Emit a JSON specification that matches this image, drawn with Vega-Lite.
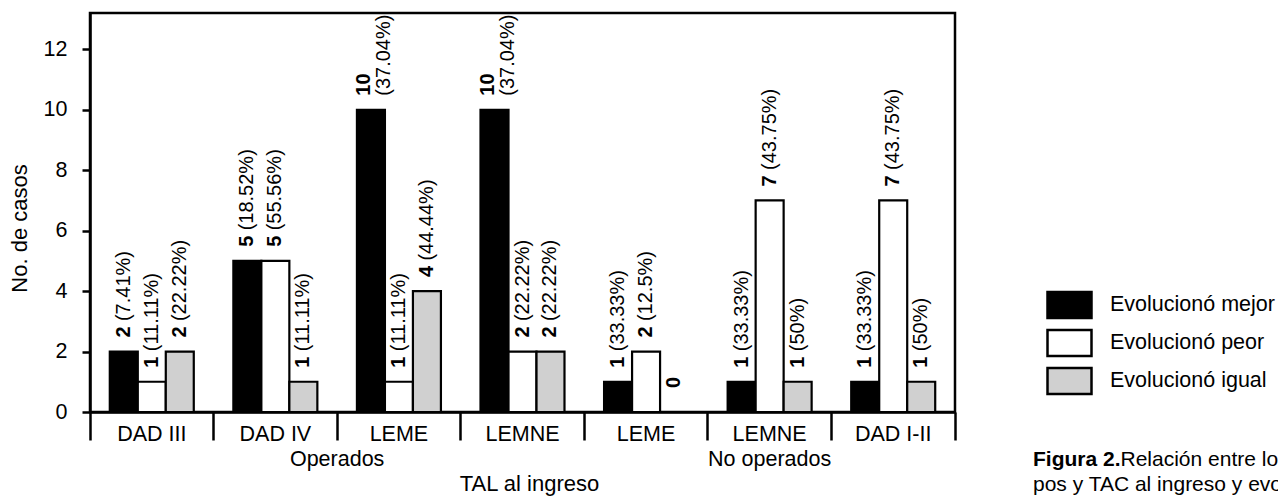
{
  "$schema": "https://vega.github.io/schema/vega-lite/v6.json",
  "width": 865,
  "height": 399,
  "autosize": {"type": "none"},
  "padding": {"left": 90, "top": 13, "right": 323, "bottom": 84},
  "config": {
    "font": "Liberation Sans",
    "view": {"stroke": "#000", "strokeWidth": 2.5},
    "axis": {"labelColor": "#000", "titleColor": "#000", "domainColor": "#000", "tickColor": "#000", "labelFontSize": 21.5, "titleFontSize": 22, "titleFontWeight": "normal", "grid": false, "labelFont": "Liberation Sans", "titleFont": "Liberation Sans"}
  },
  "title": {
    "text": "Figura 2.",
    "subtitle": ["\u200b\u00a0\u00a0\u00a0\u00a0\u00a0\u00a0\u00a0\u00a0\u00a0\u00a0\u00a0\u00a0\u00a0\u00a0\u00a0Relación entre los gru-", "pos y TAC al ingreso y evolución"],
    "orient": "bottom",
    "anchor": "start",
    "frame": "group",
    "dx": 943,
    "dy": -45,
    "offset": 0,
    "font": "Liberation Sans",
    "fontSize": 21,
    "fontWeight": "bold",
    "color": "#000",
    "subtitleFont": "Liberation Sans",
    "subtitleFontSize": 21,
    "subtitleColor": "#000",
    "subtitlePadding": -21,
    "subtitleLineHeight": 25
  },
  "data": {
    "values": [
      {"grupo": "Operados", "tal": "DAD III", "serie": "Evolucionó mejor", "n": 2, "pct": 7.41},
      {"grupo": "Operados", "tal": "DAD III", "serie": "Evolucionó peor", "n": 1, "pct": 11.11},
      {"grupo": "Operados", "tal": "DAD III", "serie": "Evolucionó igual", "n": 2, "pct": 22.22},
      {"grupo": "Operados", "tal": "DAD IV", "serie": "Evolucionó mejor", "n": 5, "pct": 18.52},
      {"grupo": "Operados", "tal": "DAD IV", "serie": "Evolucionó peor", "n": 5, "pct": 55.56},
      {"grupo": "Operados", "tal": "DAD IV", "serie": "Evolucionó igual", "n": 1, "pct": 11.11},
      {"grupo": "Operados", "tal": "LEME", "serie": "Evolucionó mejor", "n": 10, "pct": 37.04},
      {"grupo": "Operados", "tal": "LEME", "serie": "Evolucionó peor", "n": 1, "pct": 11.11},
      {"grupo": "Operados", "tal": "LEME", "serie": "Evolucionó igual", "n": 4, "pct": 44.44},
      {"grupo": "Operados", "tal": "LEMNE", "serie": "Evolucionó mejor", "n": 10, "pct": 37.04},
      {"grupo": "Operados", "tal": "LEMNE", "serie": "Evolucionó peor", "n": 2, "pct": 22.22},
      {"grupo": "Operados", "tal": "LEMNE", "serie": "Evolucionó igual", "n": 2, "pct": 22.22},
      {"grupo": "No operados", "tal": "LEME", "serie": "Evolucionó mejor", "n": 1, "pct": 33.33},
      {"grupo": "No operados", "tal": "LEME", "serie": "Evolucionó peor", "n": 2, "pct": 12.5},
      {"grupo": "No operados", "tal": "LEME", "serie": "Evolucionó igual", "n": 0, "pct": null},
      {"grupo": "No operados", "tal": "LEMNE", "serie": "Evolucionó mejor", "n": 1, "pct": 33.33},
      {"grupo": "No operados", "tal": "LEMNE", "serie": "Evolucionó peor", "n": 7, "pct": 43.75},
      {"grupo": "No operados", "tal": "LEMNE", "serie": "Evolucionó igual", "n": 1, "pct": 50},
      {"grupo": "No operados", "tal": "DAD I-II", "serie": "Evolucionó mejor", "n": 1, "pct": 33.33},
      {"grupo": "No operados", "tal": "DAD I-II", "serie": "Evolucionó peor", "n": 7, "pct": 43.75},
      {"grupo": "No operados", "tal": "DAD I-II", "serie": "Evolucionó igual", "n": 1, "pct": 50}
    ]
  },
  "transform": [
    {"calculate": "datum.grupo + '|' + datum.tal", "as": "cat"},
    {"calculate": "datum.pct == null ? '' : '(' + datum.pct + '%)'", "as": "pctLabel"}
  ],
  "encoding": {
    "y": {
      "field": "n",
      "type": "quantitative",
      "scale": {"domain": [0, 13.2], "nice": false, "zero": true},
      "axis": {
        "values": [0, 2, 4, 6, 8, 10, 12],
        "tickSize": 8,
        "tickWidth": 2.5,
        "domainWidth": 2.5,
        "labelPadding": 15,
        "title": "No. de casos",
        "titleX": -64,
        "titleY": 215,
        "titleAlign": "center",
        "titleBaseline": "alphabetic",
        "titleAngle": 270
      }
    },
    "xOffset": {
      "field": "serie",
      "type": "nominal",
      "scale": {"domain": ["Evolucionó mejor", "Evolucionó peor", "Evolucionó igual"], "paddingInner": 0, "paddingOuter": 0.707}
    }
  },
  "layer": [
    {
      "mark": {"type": "bar", "stroke": "#000", "strokeWidth": 2.2},
      "encoding": {
        "x": {
          "field": "cat",
          "type": "nominal",
          "scale": {"domain": ["Operados|DAD III", "Operados|DAD IV", "Operados|LEME", "Operados|LEMNE", "No operados|LEME", "No operados|LEMNE", "No operados|DAD I-II"], "paddingInner": 0, "paddingOuter": 0},
          "axis": {"orient": "bottom", "bandPosition": 1, "tickExtra": true, "labels": false, "ticks": true, "tickSize": 28, "tickWidth": 2.5, "domain": true, "domainWidth": 2.5, "title": null}
        },
        "color": {
          "field": "serie",
          "type": "nominal",
          "scale": {"domain": ["Evolucionó mejor", "Evolucionó peor", "Evolucionó igual"], "range": ["#000000", "#ffffff", "#d0d0d0"]},
          "legend": {
            "orient": "none",
            "legendX": 956,
            "legendY": 274,
            "title": null,
            "symbolType": "M-1,-0.59H1V0.59H-1Z",
            "symbolSize": 1936,
            "symbolStrokeColor": "#000",
            "symbolStrokeWidth": 2.5,
            "symbolOpacity": 1,
            "labelFontSize": 21.5,
            "labelFont": "Liberation Sans",
            "labelColor": "#000",
            "labelOffset": 17,
            "labelLimit": 400,
            "clipHeight": 36,
            "rowPadding": 2,
            "padding": 0
          }
        }
      }
    },
    {
      "transform": [{"filter": "datum.n > 0 && datum.n < 10"}],
      "mark": {"type": "text", "angle": 270, "align": "left", "baseline": "middle", "dx": 14, "fontSize": 20, "fontWeight": "bold", "color": "#000"},
      "encoding": {
        "x": {
          "field": "cat",
          "type": "nominal",
          "axis": {
            "orient": "bottom",
            "domain": false,
            "ticks": false,
            "labelPadding": 11,
            "labelAngle": 0,
            "labelLineHeight": 25,
            "labelExpr": "datum.value == 'No operados|LEMNE' ? ['LEMNE', 'No operados'] : split(datum.value, '|')[1]",
            "title": "TAL al ingreso",
            "titleX": 439,
            "titleY": 78,
            "titleAlign": "center",
            "titleBaseline": "alphabetic"
          }
        },
        "text": {"field": "n", "type": "quantitative"}
      }
    },
    {
      "transform": [{"filter": "datum.n > 0 && datum.n < 10"}],
      "mark": {"type": "text", "angle": 270, "align": "left", "baseline": "middle", "dx": 30.5, "fontSize": 20, "color": "#000"},
      "encoding": {
        "x": {
          "field": "cat",
          "type": "nominal",
          "axis": {
            "orient": "bottom",
            "domain": false,
            "ticks": false,
            "labelPadding": 36,
            "labelAngle": 0,
            "labelOffset": -61.8,
            "labelExpr": "datum.value == 'Operados|LEME' ? 'Operados' : ''",
            "title": null
          }
        },
        "text": {"field": "pctLabel", "type": "nominal"}
      }
    },
    {
      "transform": [{"filter": "datum.n >= 10"}],
      "mark": {"type": "text", "angle": 270, "align": "left", "baseline": "middle", "dx": 14, "dy": -6.5, "fontSize": 20, "fontWeight": "bold", "color": "#000"},
      "encoding": {
        "x": {"field": "cat", "type": "nominal", "axis": null},
        "text": {"field": "n", "type": "quantitative"}
      }
    },
    {
      "transform": [{"filter": "datum.n >= 10"}],
      "mark": {"type": "text", "angle": 270, "align": "left", "baseline": "middle", "dx": 14, "dy": 13.5, "fontSize": 20, "color": "#000"},
      "encoding": {
        "x": {"field": "cat", "type": "nominal", "axis": null},
        "text": {"field": "pctLabel", "type": "nominal"}
      }
    },
    {
      "transform": [{"filter": "datum.n == 0"}],
      "mark": {"type": "text", "angle": 270, "align": "left", "baseline": "middle", "dx": 24, "fontSize": 20, "fontWeight": "bold", "color": "#000"},
      "encoding": {
        "x": {"field": "cat", "type": "nominal", "axis": null},
        "text": {"field": "n", "type": "quantitative"}
      }
    }
  ],
  "resolve": {"axis": {"x": "independent"}}
}
